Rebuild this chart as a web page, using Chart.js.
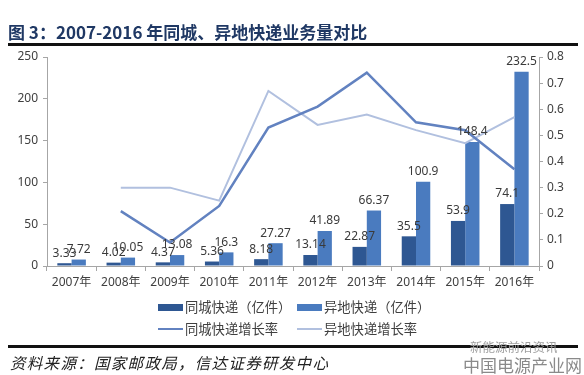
<!DOCTYPE html>
<html>
<head>
<meta charset="utf-8">
<script src="https://cdn.jsdelivr.net/npm/chart.js@4"></script>
<style>
  html, body { margin: 0; padding: 0; background: #fff; }
  #wrap { position: relative; width: 584px; height: 375px; overflow: hidden; font-family: "Noto Sans CJK SC", sans-serif; }
  #chart { position: absolute; left: 0; top: 0; }
  #title { position: absolute; left: 8px; top: 20px; font-size: 17px; font-weight: bold; color: #1f3864; white-space: nowrap; line-height: 24px; }
  .rule { position: absolute; left: 8px; width: 570px; background: #111; }
  #source { position: absolute; left: 10px; top: 351px; font-size: 15.5px; letter-spacing: 1.3px; font-style: italic; color: #222; white-space: nowrap; line-height: 22px; }
  .mark { position: absolute; white-space: nowrap; color: #9a9a9a; }
  .leg { position: absolute; font-size: 13.3px; color: #404040; white-space: nowrap; line-height: 18px; display: flex; align-items: center; }
  .leg i { display: inline-block; width: 25px; margin-right: 2px; }
</style>
</head>
<body>
<div id="wrap">
  <canvas id="chart" width="584" height="375"></canvas>
  <div id="title">图 3：2007-2016 年同城、异地快递业务量对比</div>
  <div class="rule" style="top:43px;height:3px;"></div>
  <div id="legend"></div>
  <div class="rule" style="top:345px;height:3px;"></div>
  <div id="source">资料来源：国家邮政局，信达证券研发中心</div>
  <div class="mark" style="left:470px;top:337px;font-size:12.5px;color:#a0a0a0;">新能源前沿资讯</div>
  <div class="mark" style="left:463px;top:352px;font-size:17px;color:#8a8a8a;">中国电源产业网</div>
</div>
<script>
const years = ["2007年", "2008年", "2009年", "2010年", "2011年", "2012年", "2013年", "2014年", "2015年", "2016年"];
const localVolume = [3.33, 4.02, 4.37, 5.36, 8.18, 13.14, 22.87, 35.5, 53.9, 74.1];
const remoteVolume = [7.72, 10.05, 13.08, 16.3, 27.27, 41.89, 66.37, 100.9, 148.4, 232.5];
const localGrowth = [null, 0.21, 0.09, 0.23, 0.53, 0.61, 0.74, 0.55, 0.52, 0.37];
const remoteGrowth = [null, 0.30, 0.30, 0.25, 0.67, 0.54, 0.58, 0.52, 0.47, 0.57];
const leftTicks = [0, 50, 100, 150, 200, 250];
const rightTicks = [0, 0.1, 0.2, 0.3, 0.4, 0.5, 0.6, 0.7, 0.8];

const tickColor = "#404040";
const axisColor = "#a6a6a6";
Chart.defaults.font.family = "'Noto Sans', 'Noto Sans CJK SC', sans-serif";
Chart.defaults.font.size = 12;
Chart.defaults.color = tickColor;

// values above the bars
const barLabels = {
  id: "barLabels",
  afterDatasetsDraw(chart) {
    const ctx = chart.ctx;
    ctx.save();
    ctx.font = "12px 'Noto Sans', sans-serif";
    ctx.fillStyle = "#3a3a3a";
    ctx.textAlign = "center";
    ctx.textBaseline = "middle";
    chart.data.datasets.forEach((ds, i) => {
      if (ds.type !== "bar") return;
      chart.getDatasetMeta(i).data.forEach((bar, j) => {
        ctx.fillText(String(ds.data[j]), bar.x, bar.y - 10);
      });
    });
    ctx.restore();
  }
};

const chart = new Chart(document.getElementById("chart"), {
  data: {
    labels: years,
    datasets: [
      { type: "bar", label: "同城快递（亿件）", data: localVolume, yAxisID: "y", backgroundColor: "#2e5792", order: 2,
        barPercentage: 1, categoryPercentage: 0.58 },
      { type: "bar", label: "异地快递（亿件）", data: remoteVolume, yAxisID: "y", backgroundColor: "#4a7bbf", order: 2,
        barPercentage: 1, categoryPercentage: 0.58 },
      { type: "line", label: "同城快递增长率", data: localGrowth, yAxisID: "y1", borderColor: "#6282c0", borderWidth: 2.5,
        pointRadius: 0, tension: 0, order: 0, spanGaps: false },
      { type: "line", label: "异地快递增长率", data: remoteGrowth, yAxisID: "y1", borderColor: "#b1c0df", borderWidth: 2,
        pointRadius: 0, tension: 0, order: 1, spanGaps: false }
    ]
  },
  options: {
    responsive: false,
    animation: false,
    devicePixelRatio: 1,
    layout: { padding: { left: 0, right: 0, top: 57, bottom: 84 } },
    plugins: { legend: { display: false }, tooltip: { enabled: false } },
    scales: {
      x: {
        offset: true,
        grid: { offset: true, drawOnChartArea: false, drawTicks: true, tickLength: 5, color: axisColor },
        border: { color: axisColor },
        ticks: { padding: 4, color: tickColor, maxRotation: 0, autoSkip: false },
        afterFit(scale) { scale.height = 25; }
      },
      y: {
        position: "left",
        min: 0, max: 250,
        grid: { drawOnChartArea: false, tickLength: 4, color: axisColor },
        border: { color: axisColor },
        ticks: { padding: 5, color: tickColor, stepSize: 50 },
        afterBuildTicks(scale) { scale.ticks = leftTicks.map(v => ({ value: v })); },
        afterFit(scale) { scale.width = 47; }
      },
      y1: {
        position: "right",
        min: 0, max: 0.8,
        grid: { drawOnChartArea: false, tickLength: 4, color: axisColor },
        border: { color: axisColor },
        ticks: { padding: 4, color: tickColor, callback: v => (v === 0 ? "0" : v.toFixed(1)) },
        afterBuildTicks(scale) { scale.ticks = rightTicks.map(v => ({ value: v })); },
        afterFit(scale) { scale.width = 45; }
      }
    }
  },
  plugins: [barLabels]
});

// legend, built from the chart's datasets
const legendPos = [
  { left: 158, top: 298 }, { left: 297, top: 298 },
  { left: 158, top: 320 }, { left: 297, top: 320 }
];
const legendEl = document.getElementById("legend");
chart.data.datasets.forEach((ds, i) => {
  const item = document.createElement("div");
  item.className = "leg";
  item.style.left = legendPos[i].left + "px";
  item.style.top = legendPos[i].top + "px";
  const swatch = document.createElement("i");
  if (ds.type === "bar") {
    swatch.style.height = "7px";
    swatch.style.background = ds.backgroundColor;
  } else {
    swatch.style.height = "2px";
    swatch.style.background = ds.borderColor;
  }
  item.appendChild(swatch);
  item.appendChild(document.createTextNode(ds.label));
  legendEl.appendChild(item);
});
</script>
</body>
</html>
